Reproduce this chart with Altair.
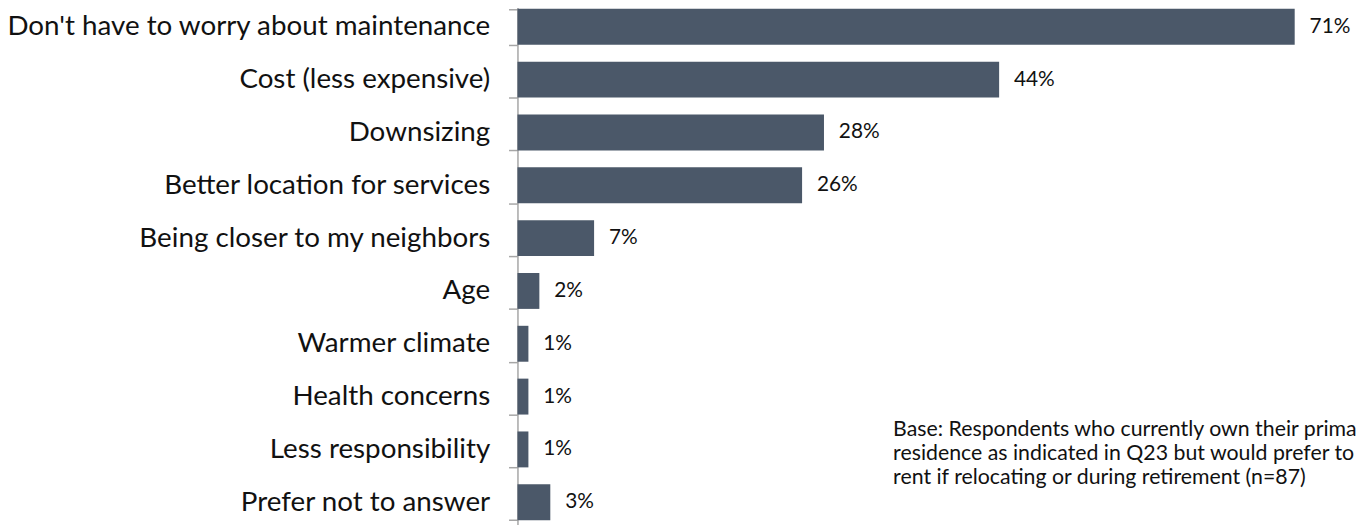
import altair as alt
import pandas as pd

categories = [
    "Don't have to worry about maintenance",
    "Cost (less expensive)",
    "Downsizing",
    "Better location for services",
    "Being closer to my neighbors",
    "Age",
    "Warmer climate",
    "Health concerns",
    "Less responsibility",
    "Prefer not to answer",
]
values = [71, 44, 28, 26, 7, 2, 1, 1, 1, 3]
labels = [f"{v}%" for v in values]

note_lines = [
    "Base: Respondents who currently own their primary",
    "residence as indicated in Q23 but would prefer to",
    "rent if relocating or during retirement (n=87)",
]

df = pd.DataFrame({"category": categories, "value": values, "label": labels})

FONT = "Lato"
BAR = "#4B5869"

y_enc = alt.Y(
    "category:N",
    sort=categories,
    scale=alt.Scale(range=[-10, 523], paddingInner=0.32, paddingOuter=0.16),
    axis=alt.Axis(
        title=None,
        domainColor="#A6A6A6",
        domainWidth=1.5,
        tickColor="#A6A6A6",
        tickWidth=1.5,
        tickSize=9,
        tickBand="extent",
        labelFontSize=28,
        labelFont=FONT,
        labelColor="#111111",
        labelPadding=19,
        labelLimit=700,
        grid=False,
    ),
)
x_enc = alt.X("value:Q", scale=alt.Scale(domain=[0, 76.6], nice=False, zero=True), axis=None)

base = alt.Chart(df)
bars = base.mark_bar(color=BAR).encode(x=x_enc, y=y_enc)
text = base.mark_text(align="left", baseline="middle", dx=15, fontSize=21, font=FONT, color="#111111").encode(
    x=x_enc, y=y_enc, text="label:N"
)

note = alt.Chart(pd.DataFrame({"t": [note_lines]})).mark_text(
    align="left", baseline="middle", fontSize=21.5, font=FONT, color="#111111", lineHeight=24
).encode(x=alt.value(379), y=alt.value(424), text="t")

chart = (
    alt.layer(bars, text, note)
    .properties(
        width=846,
        height=517,
        padding={"left": 514, "top": 0, "right": 0, "bottom": 0},
        autosize=alt.AutoSizeParams(type="none"),
    )
    .configure_view(stroke=None)
)

chart.save("out.html", embed_options={"renderer": "svg", "actions": False})
